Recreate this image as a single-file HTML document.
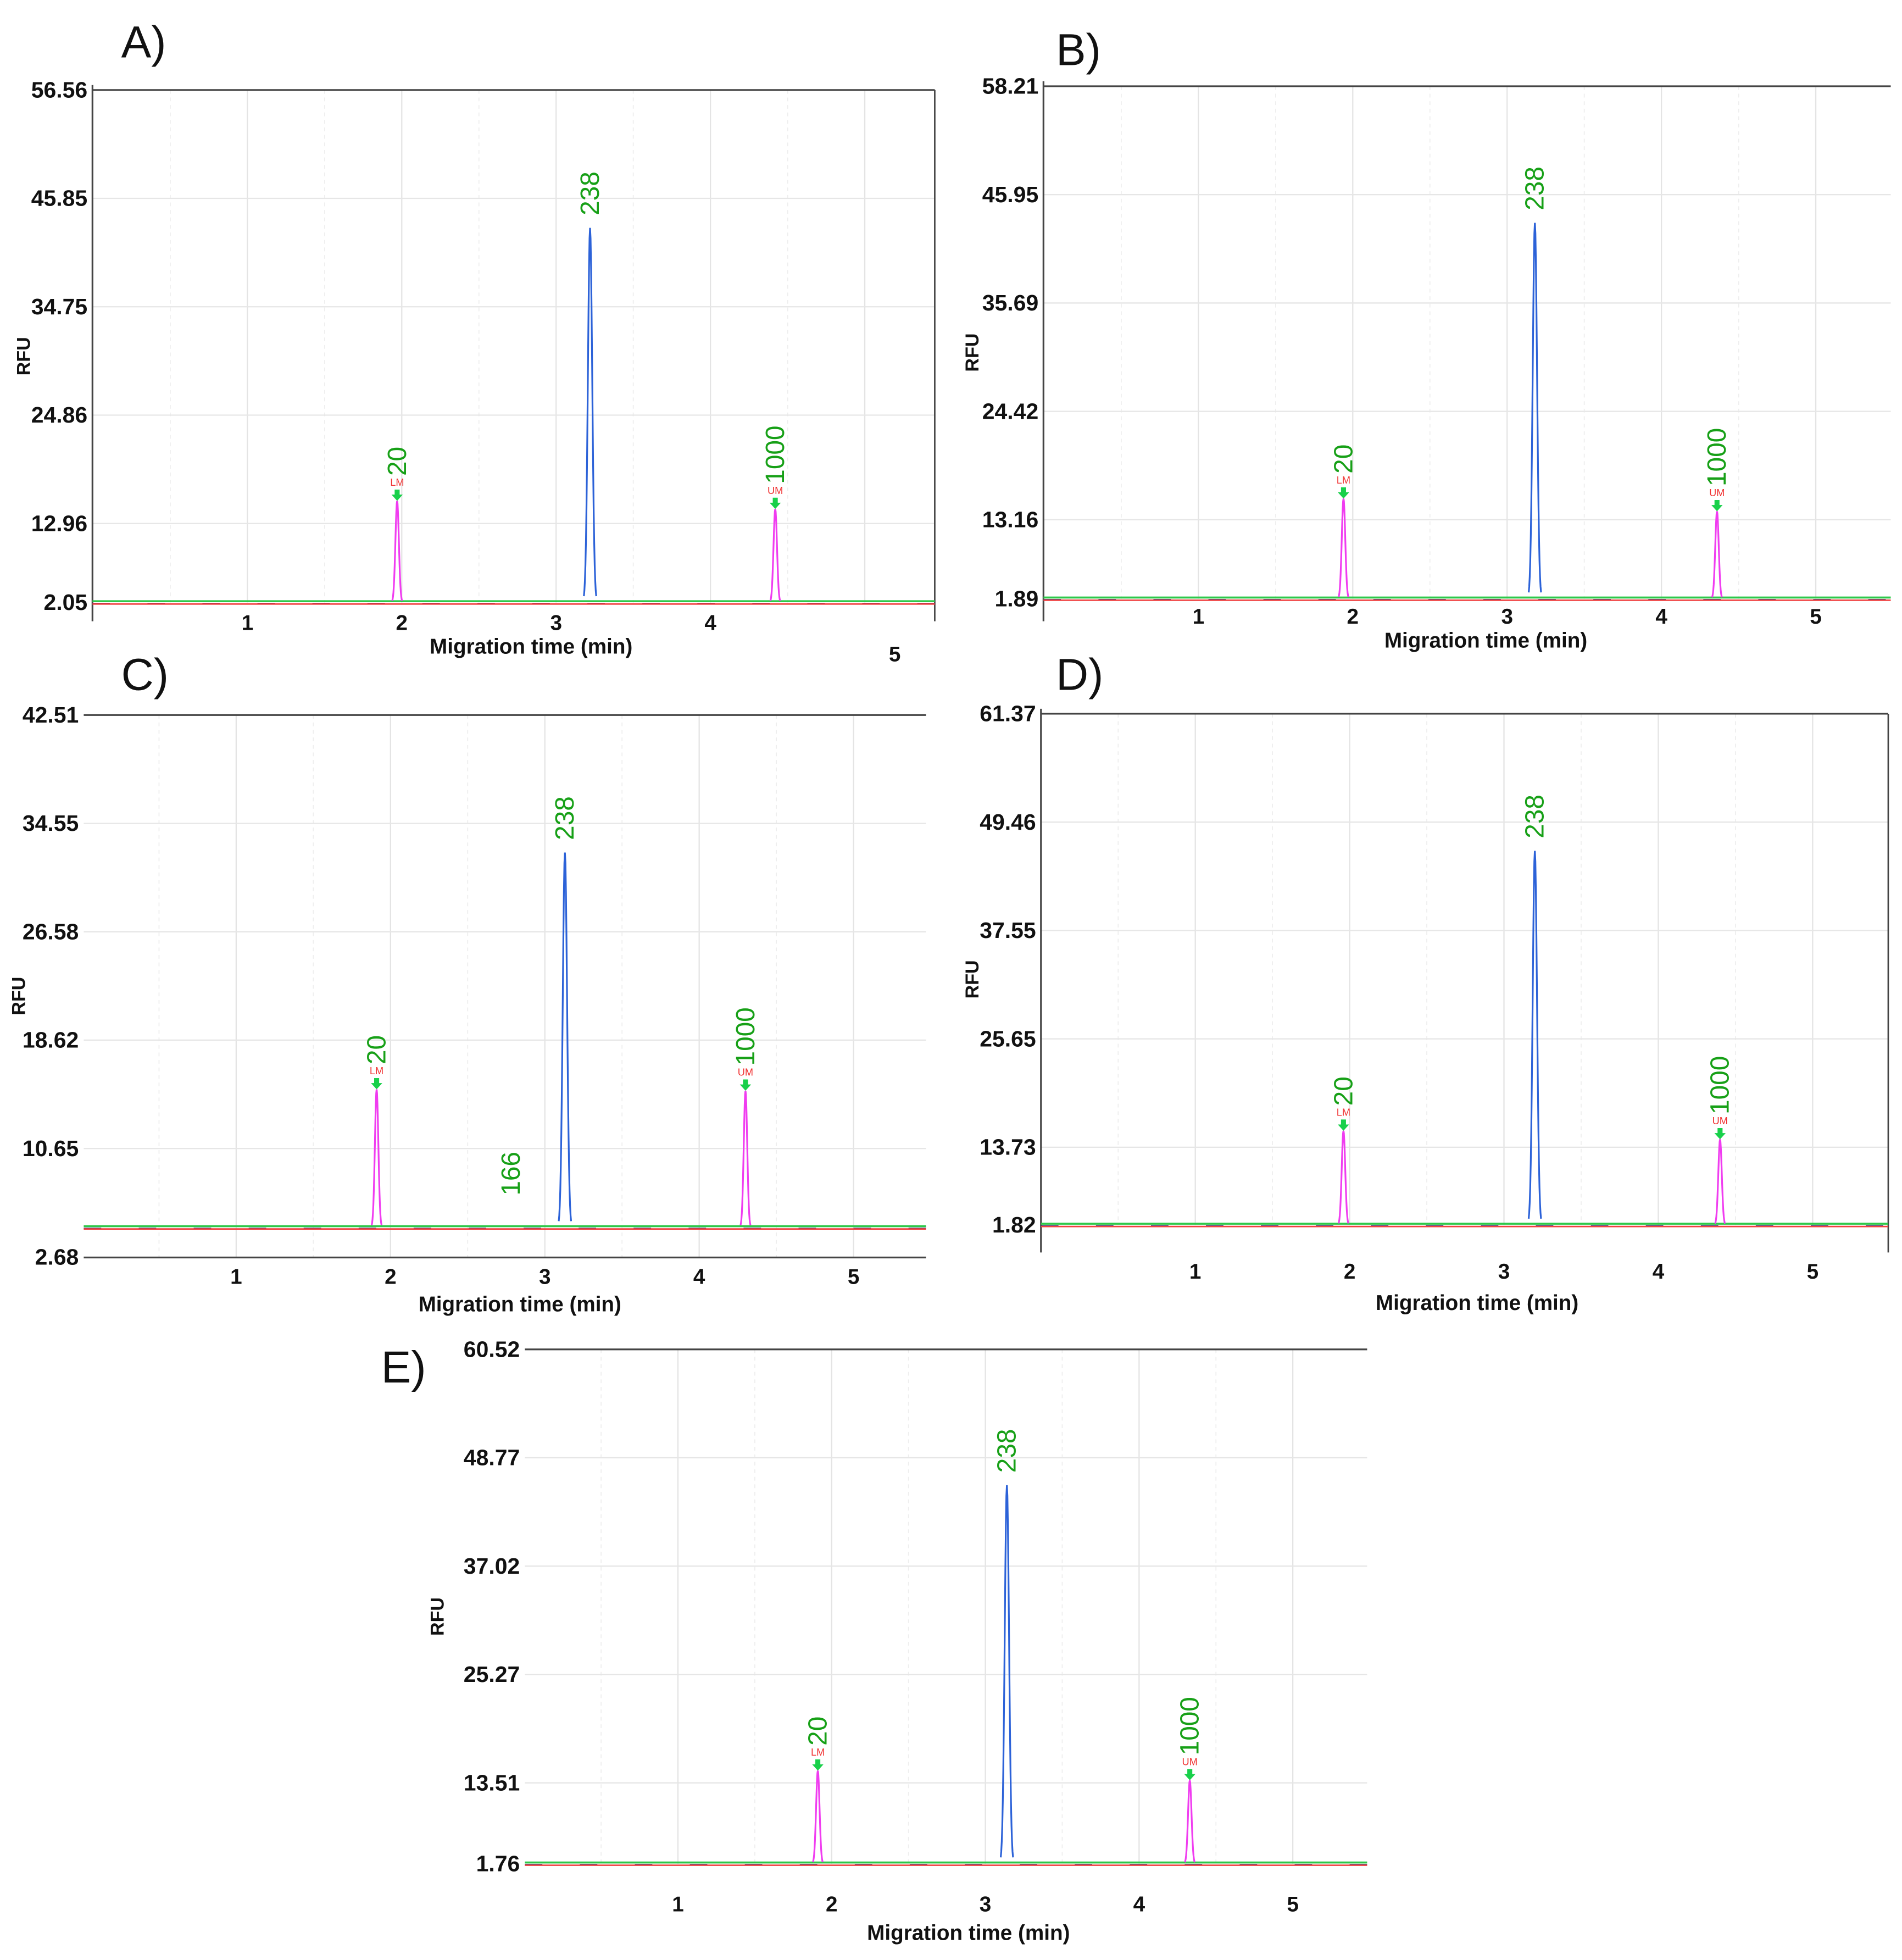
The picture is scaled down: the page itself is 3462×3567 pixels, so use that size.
<!DOCTYPE html>
<html><head><meta charset="utf-8"><style>
html,body{margin:0;padding:0;background:#fff;}
svg{display:block;}
text{font-family:"Liberation Sans",sans-serif;}
</style></head><body>
<svg id="fig" width="3462" height="3567" viewBox="0 0 1522 1568" preserveAspectRatio="none" xmlns="http://www.w3.org/2000/svg"></svg>
<script>
// ---- data ----
const panelNames = ["A","B","C","D","E"];
const yTickLabelsA = ["56.56","45.85","34.75","24.86","12.96","2.05"];
const yTickLabelsB = ["58.21","45.95","35.69","24.42","13.16","1.89"];
const yTickLabelsC = ["42.51","34.55","26.58","18.62","10.65","2.68"];
const yTickLabelsD = ["61.37","49.46","37.55","25.65","13.73","1.82"];
const yTickLabelsE = ["60.52","48.77","37.02","25.27","13.51","1.76"];
const xTickLabels = ["1","2","3","4","5"];
const peakSizes = ["20","238","1000"];
const peakMarkers = ["LM","","UM"];
const peakTimesA = [1.97, 3.22, 4.42];
const peakTimesB = [1.94, 3.18, 4.36];
const peakTimesC = [1.91, 3.13, 4.30];
const peakTimesD = [1.96, 3.20, 4.40];
const peakTimesE = [1.91, 3.14, 4.33];
const peakHeightsA = [12.86, 41.9, 12.0];
const peakHeightsB = [12.9, 43.2, 11.5];
const peakHeightsC = [15.0, 32.4, 14.9];
const peakHeightsD = [12.8, 45.4, 11.8];
const peakHeightsE = [12.4, 45.0, 11.3];
const baselineValues = [2.05, 1.89, 4.85, 1.82, 1.76];
const extraLabelC = {text:"166", time:2.78, value:7.2};

// ---- layout ----
const panels = [
 {id:"A", ticks:yTickLabelsA, times:peakTimesA, heights:peakHeightsA, left:74, right:748, top:72, base:482, axisBottom:497, x0:74.5, ppm:123.5, xlabY:504, titleY:523, titleX:425, letterX:97, letterY:46, rfuX:24, leftAxis:true, rightAxis:true, bottomAxis:false, showTicks:[1,1,1,1,0]},
 {id:"B", ticks:yTickLabelsB, times:peakTimesB, heights:peakHeightsB, left:835, right:1513, top:69, base:479, axisBottom:497, x0:835.5, ppm:123.5, xlabY:499, titleY:518, titleX:1189, letterX:845, letterY:52, rfuX:783, leftAxis:true, rightAxis:false, bottomAxis:false, showTicks:[1,1,1,1,1]},
 {id:"C", ticks:yTickLabelsC, times:peakTimesC, heights:peakHeightsC, left:67, right:741, top:572, base:1005.6, axisBottom:1006, x0:65.5, ppm:123.5, xlabY:1027, titleY:1049, titleX:416, letterX:97, letterY:552, rfuX:20, leftAxis:false, rightAxis:false, bottomAxis:true, showTicks:[1,1,1,1,1]},
 {id:"D", ticks:yTickLabelsD, times:peakTimesD, heights:peakHeightsD, left:833, right:1511, top:571, base:980, axisBottom:1002, x0:833, ppm:123.5, xlabY:1023, titleY:1048, titleX:1182, letterX:845, letterY:552, rfuX:783, leftAxis:true, rightAxis:true, bottomAxis:false, showTicks:[1,1,1,1,1]},
 {id:"E", ticks:yTickLabelsE, times:peakTimesE, heights:peakHeightsE, left:420, right:1094, top:1079.5, base:1491, axisBottom:1491, x0:419.5, ppm:123, xlabY:1529, titleY:1552, titleX:775, letterX:305, letterY:1106, rfuX:355, leftAxis:false, rightAxis:false, bottomAxis:false, showTicks:[1,1,1,1,1]}
];
const NS="http://www.w3.org/2000/svg";
const svg=document.getElementById("fig");
function mk(tag, attrs, parent, txt){
  const e=document.createElementNS(NS,tag);
  for(const k in attrs) e.setAttribute(k,attrs[k]);
  if(txt!==undefined) e.textContent=txt;
  (parent||svg).appendChild(e);
  return e;
}
const GRID=86.7;
panels.forEach((p,pi)=>{
  const g=mk("g",{});
  
  
  const vTop=parseFloat(p.ticks[0]);
  const v0=parseFloat(p.ticks[p.ticks.length-1]);
  const yS=v=>p.base-(v-v0)/(vTop-v0)*(p.base-p.top);
  const xS=t=>p.x0+t*p.ppm;
  for(let k=1;k*0.5*p.ppm+p.x0<p.right;k++){
    const x=xS(k*0.5);
    const l=mk("line",{x1:x,x2:x,y1:p.top,y2:p.base,stroke:k%2?"#eeeeee":"#e4e4e4","stroke-width":k%2?0.8:1,"stroke-dasharray":k%2?"3 3":"none"},g);
    
    
  }
  p.ticks.forEach((lab,i)=>{
    const y = i===p.ticks.length-1 ? yS(v0) : p.top+i*GRID;
    if(i>0 && i<p.ticks.length-1){
      const l=mk("line",{x1:p.left,x2:p.right,y1:y,y2:y,stroke:"#e6e6e6","stroke-width":1},g);
      
      
    }
    const t=mk("text",{x:p.left-4,y:y+6,"text-anchor":"end","font-size":18,"font-weight":"bold",fill:"#111"},g,lab);
    
    
  });
  const ax=mk("line",{x1:p.left,x2:p.right,y1:p.top,y2:p.top,stroke:"#444","stroke-width":1.4},g);
  
  
  if(p.leftAxis){const l=mk("line",{x1:p.left,x2:p.left,y1:p.top-4,y2:p.axisBottom,stroke:"#444","stroke-width":1.4},g);
    
    }
  if(p.rightAxis){const l=mk("line",{x1:p.right,x2:p.right,y1:p.top,y2:p.axisBottom,stroke:"#444","stroke-width":1.2},g);
    
    }
  if(p.bottomAxis){const l=mk("line",{x1:p.left,x2:p.right,y1:p.axisBottom,y2:p.axisBottom,stroke:"#444","stroke-width":1.4},g);
    
    }
  xTickLabels.forEach((lab,i)=>{
    let x=xS(parseFloat(lab)), y=p.xlabY;
    if(!p.showTicks[i]){ x=716; y=529; }
    const t=mk("text",{x:x,y:y,"text-anchor":"middle","font-size":17,"font-weight":"bold",fill:"#111"},g,lab);
    
    
  });
  const xt=mk("text",{x:p.titleX,y:p.titleY,"text-anchor":"middle","font-size":17,"font-weight":"bold",fill:"#111"},g,"Migration time (min)");
  
  
  const ry=(p.top+p.base)/2+8;
  const rt=mk("text",{x:p.rfuX,y:ry,"text-anchor":"middle","font-size":15,"font-weight":"bold",fill:"#111",transform:"rotate(-90 "+p.rfuX+" "+ry+")"},g,"RFU");
  
  
  const lt=mk("text",{x:p.letterX,y:p.letterY,"font-size":36,fill:"#111"},g,p.id+")");
  
  
  const bv=baselineValues[pi];
  const by=yS(bv);
  const bl1=mk("line",{x1:p.left,x2:p.right,y1:by-1,y2:by-1,stroke:"#2ec84a","stroke-width":1.6},g);
  
  
  const bl2=mk("line",{x1:p.left,x2:p.right,y1:by+0.8,y2:by+0.8,stroke:"#22317a","stroke-width":1.2,"stroke-dasharray":"14 30"},g);
  
  
  const bl3=mk("line",{x1:p.left,x2:p.right,y1:by+1.2,y2:by+1.2,stroke:"#f04040","stroke-width":1.2},g);
  
  
  p.times.forEach((t,i)=>{
    const h=p.heights[i];
    const color=i===1?"#2c62d8":"#f03cf0";
    const w=i===1?0.02:0.016;
    let d="";
    for(let s=-12;s<=12;s++){
      const tt=t+s*w/6;
      const v=bv+(h-bv)*Math.exp(-0.5*Math.pow(s/4.2,2));
      d+=(s===-12?"M":"L")+xS(tt).toFixed(2)+" "+yS(v).toFixed(2);
    }
    const pk=mk("path",{d:d,fill:"none",stroke:color,"stroke-width":1.4},g);
    
    
    const px=xS(t), py=yS(h);
    if(peakMarkers[i]){
      const ar=mk("path",{d:`M${px-2} ${py-9}h4v4h2.5l-4.5 5l-4.5-5h2.5z`,fill:"#18d04a"},g);
      
      
      const mt=mk("text",{x:px,y:py-12,"text-anchor":"middle","font-size":8,fill:"#f03030"},g,peakMarkers[i]);
      
      
    }
    const lx=px+7, ly=py-(peakMarkers[i]?20:10);
    const st=mk("text",{x:lx,y:ly,"font-size":21,fill:"#17a017",transform:"rotate(-90 "+lx+" "+ly+")"},g,peakSizes[i]);
    
    
  });
  if(p.id==="C"){
    const ex=xS(extraLabelC.time)+7, ey=yS(extraLabelC.value);
    const et=mk("text",{x:ex,y:ey,"font-size":21,fill:"#17a017",transform:"rotate(-90 "+ex+" "+ey+")"},g,extraLabelC.text);
    
    
  }
});
</script>
</body></html>
